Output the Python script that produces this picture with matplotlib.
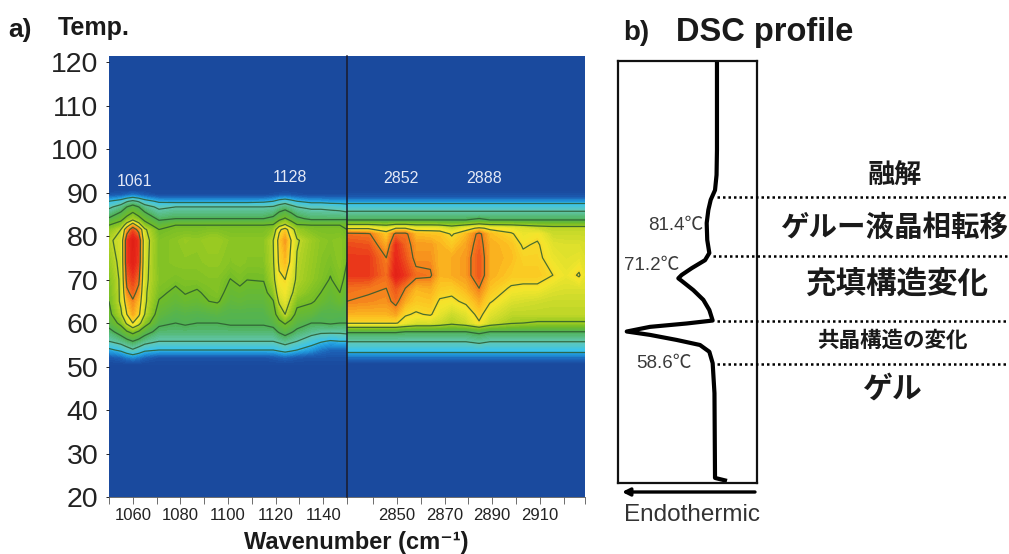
import numpy as np
import matplotlib
matplotlib.use("Agg")
import matplotlib.pyplot as plt
from matplotlib.colors import LinearSegmentedColormap
from matplotlib.patches import FancyArrowPatch

plt.rcParams['font.family'] = ['Liberation Sans', 'Noto Sans CJK JP', 'DejaVu Sans']

Y_TICKS = [20, 30, 40, 50, 60, 70, 80, 90, 100, 110, 120]
LEFT_MAJOR = [1060, 1080, 1100, 1120, 1140]
LEFT_MINOR = [1050, 1070, 1090, 1110, 1130, 1150]
RIGHT_MAJOR = [2850, 2870, 2890, 2910]
RIGHT_MINOR = [2840, 2860, 2880, 2900, 2920, 2929]

LEFT_WN = [1050, 1055, 1057.5, 1060, 1062.5, 1065, 1071, 1078, 1082, 1087, 1092, 1095.5, 1101, 1105, 1108, 1115, 1119, 1121.5, 1124, 1126.5, 1129, 1135, 1139, 1143, 1147, 1150]
LEFT_T = [20, 50.5, 52, 53.8, 55.8, 58, 60, 62, 65, 67, 70, 74, 79, 81.5, 82.5, 84, 86.7, 88, 89.5, 90.5, 121.4]
B = [0.0] * 26
LEFT_Z = [
    B, B,
    [.03,.05,.08,.10,.08,.05,.02,.02,.02,.02,.02,.02,.02,.02,.02,.02,.03,.04,.05,.04,.03,.02,.02,.02,.02,.02],
    [.14,.18,.22,.25,.22,.18,.16,.16,.16,.16,.16,.16,.16,.16,.16,.16,.16,.18,.20,.18,.16,.12,.08,.06,.06,.06],
    [.26,.30,.33,.36,.33,.30,.26,.26,.26,.26,.26,.26,.26,.26,.26,.26,.26,.28,.30,.28,.26,.20,.17,.15,.16,.16],
    [.33,.40,.46,.50,.46,.40,.33,.33,.33,.33,.33,.33,.33,.33,.33,.33,.33,.37,.40,.37,.34,.30,.28,.28,.28,.29],
    [.40,.50,.62,.72,.64,.52,.38,.36,.37,.36,.36,.36,.37,.37,.37,.37,.39,.44,.48,.44,.40,.36,.36,.37,.36,.36],
    [.44,.58,.72,.80,.74,.60,.42,.38,.39,.38,.39,.40,.38,.38,.38,.38,.43,.52,.60,.52,.44,.42,.38,.38,.38,.38],
    [.47,.62,.78,.84,.78,.62,.465,.43,.45,.44,.47,.48,.42,.43,.42,.42,.465,.62,.66,.58,.50,.48,.45,.42,.45,.40],
    [.48,.62,.83,.88,.82,.62,.49,.45,.475,.46,.49,.50,.44,.45,.44,.44,.52,.66,.69,.62,.55,.50,.47,.44,.47,.42],
    [.50,.62,.88,.92,.87,.63,.51,.49,.50,.50,.51,.51,.468,.49,.471,.475,.57,.70,.72,.66,.58,.53,.50,.465,.50,.44],
    [.54,.63,.92,.97,.92,.64,.50,.52,.52,.52,.53,.53,.51,.52,.51,.51,.59,.74,.78,.70,.59,.54,.51,.49,.52,.47],
    [.58,.64,.92,.98,.93,.65,.50,.52,.54,.53,.55,.55,.52,.52,.52,.52,.60,.76,.82,.72,.61,.55,.52,.51,.52,.49],
    [.52,.60,.80,.90,.82,.62,.47,.49,.49,.49,.50,.50,.49,.49,.49,.49,.52,.70,.76,.66,.54,.50,.49,.49,.49,.47],
    [.47,.52,.66,.80,.66,.52,.42,.47,.47,.47,.47,.47,.47,.47,.47,.47,.48,.56,.62,.54,.48,.47,.47,.47,.47,.47],
    [.37,.44,.50,.55,.50,.44,.34,.36,.36,.36,.36,.36,.36,.36,.36,.36,.38,.44,.48,.43,.38,.34,.34,.34,.34,.34],
    [.24,.30,.36,.40,.36,.30,.24,.26,.26,.26,.26,.26,.26,.26,.26,.26,.27,.30,.32,.29,.26,.24,.24,.23,.22,.20],
    [.16,.20,.25,.28,.25,.20,.14,.13,.13,.13,.13,.13,.13,.13,.13,.14,.16,.20,.22,.19,.16,.13,.13,.12,.12,.12],
    [.03,.04,.06,.08,.06,.04,.01,.01,.01,.01,.01,.01,.01,.01,.01,.01,.02,.03,.04,.03,.02,.01,.01,.01,.01,.01],
    B, B,
]

RIGHT_WN = [2829, 2838, 2845.5, 2849.5, 2853.5, 2858, 2864, 2868, 2873, 2879, 2884.5, 2889, 2898, 2903, 2909, 2915.5, 2921, 2926.5, 2929]
RIGHT_T = [20, 50.5, 52, 53.4, 55.7, 58, 60, 62, 65, 68, 71, 75, 78, 80.5, 81.8, 83.7, 85.7, 87.5, 89, 90.3, 121.4]
C = [0.0] * 19
RIGHT_Z = [
    C, C,
    [.07] * 19,
    [.16] * 19,
    [.26,.26,.26,.26,.26,.26,.26,.26,.26,.26,.28,.26,.26,.26,.26,.26,.26,.26,.26],
    [.37,.37,.37,.37,.36,.36,.36,.36,.36,.36,.38,.36,.36,.36,.36,.36,.36,.36,.36],
    [.73,.73,.73,.73,.68,.64,.64,.62,.58,.62,.71,.62,.56,.55,.54,.54,.54,.54,.54],
    [.79,.79,.79,.81,.73,.71,.73,.67,.62,.66,.75,.66,.60,.60,.60,.60,.60,.60,.60],
    [.85,.84,.83,.87,.80,.76,.77,.71,.70,.74,.80,.73,.65,.64,.63,.62,.62,.62,.62],
    [.87,.86,.85,.90,.85,.79,.80,.76,.75,.79,.85,.77,.71,.70,.70,.66,.65,.65,.65],
    [.93,.93,.87,.97,.93,.87,.86,.79,.80,.82,.90,.80,.76,.76,.76,.72,.68,.73,.67],
    [.93,.93,.85,.95,.90,.83,.83,.79,.80,.82,.90,.80,.78,.74,.74,.68,.66,.67,.65],
    [.91,.90,.80,.94,.88,.82,.82,.79,.76,.81,.88,.80,.77,.71,.73,.66,.65,.65,.64],
    [.87,.86,.76,.87,.87,.78,.77,.77,.71,.78,.87,.78,.73,.68,.70,.62,.62,.62,.62],
    [.71,.71,.66,.72,.72,.68,.68,.67,.62,.68,.74,.70,.68,.65,.62,.60,.60,.60,.60],
    [.36,.36,.36,.36,.36,.36,.36,.36,.36,.36,.38,.36,.36,.36,.36,.36,.36,.36,.36],
    [.26] * 19,
    [.16] * 19,
    [.04] * 19,
    C, C,
]

LEFT_LINE_LEVELS = [.16, .26, .36, .47, .60, .72, .85]
RIGHT_LINE_LEVELS = [.16, .26, .36, .55, .72, .85]

PEAK_LABELS = ['1061', '1128', '2852', '2888']

DSC_HEAT = [71.2, 71.2, 70.9, 69.8, 66.7, 65, 63.8, 64.2, 65.7, 62.6, 53, 45.8, 43.4, 45.8, 54.2, 61.4, 65.7, 68.1, 49.4, 23, 6.3, 23, 42.2, 59, 65.7, 68.1, 69.4, 69.8, 78.4]
DSC_POS = [100, 78.9, 73, 69.4, 67.1, 64.7, 61.6, 57.6, 54.5, 52.8, 50.9, 49.3, 48.5, 47.9, 45.7, 43.4, 41, 38.5, 37.8, 37, 35.9, 35.1, 33.9, 32.7, 31.1, 28.4, 21.3, 1.2, 0.5]
BOUNDARY_POS = [67.8, 53.8, 38.4, 28.2]
BOUNDARY_START = [71, 68, 71, 71]

COLORS = [(0, '#1a4a9e'), (.05, '#1c5fb4'), (.12, '#2098dc'), (.18, '#3cc4e8'), (.26, '#62c8b4'),
          (.36, '#4fb257'), (.47, '#6fbb28'), (.55, '#9ccb22'), (.64, '#d6de2c'), (.70, '#f4e62c'),
          (.78, '#fcc020'), (.86, '#f47a1c'), (.95, '#e8281a'), (1, '#dc1c14')]
cmap = LinearSegmentedColormap.from_list('ir', COLORS)

W, H = 1009, 554
fig = plt.figure(figsize=(W / 100, H / 100), dpi=100, facecolor='white')
def rect(x0, y0, x1, y1):
    return [x0 / W, 1 - y1 / H, (x1 - x0) / W, (y1 - y0) / H]
def T(x, y, s, **kw):
    kw.setdefault('ha', 'center'); kw.setdefault('va', 'center'); kw.setdefault('color', '#1a1a1a')
    return fig.text(x / W, 1 - y / H, s, **kw)

axL = fig.add_axes(rect(109, 56, 347, 497), zorder=2)
axR = fig.add_axes(rect(347, 56, 585, 497), zorder=1)
fill = np.linspace(0, 1, 81)
for ax, wn, tt, zz, lev, xl in [
    (axL, LEFT_WN, LEFT_T, LEFT_Z, LEFT_LINE_LEVELS, (1050, 1150)),
    (axR, RIGHT_WN, RIGHT_T, RIGHT_Z, RIGHT_LINE_LEVELS, (2829, 2929))]:
    z = np.array(zz, dtype=float)
    ax.contourf(wn, tt, z, levels=fill, cmap=cmap, vmin=0, vmax=1, extend='both')
    ax.contour(wn, tt, z, levels=lev, colors='#2c5a30', linewidths=0.9, alpha=.85)
    ax.set_xlim(*xl)
    ax.set_ylim(20, 121.4)
    for s in ['top', 'right', 'left']:
        ax.spines[s].set_visible(False)
    ax.spines['bottom'].set_linewidth(.6)
    ax.spines['bottom'].set_color('#555555')

axL.set_xticks(LEFT_MAJOR)
axL.set_xticks(LEFT_MINOR, minor=True)
axR.set_xticks(RIGHT_MAJOR)
axR.set_xticks(RIGHT_MINOR, minor=True)
for ax in (axL, axR):
    ax.tick_params(axis='x', which='both', length=5, width=.6, color='#555555')
    ax.tick_params(axis='x', which='major', labelsize=12, pad=3, labelcolor='#222222')
axL.set_yticks(Y_TICKS)
axL.tick_params(axis='y', length=2.5, width=.6, labelsize=20.5, pad=5, labelcolor='#222222')
axR.set_yticks([])
axL.plot([1150, 1150], [20, 121.4], color='#1a1a2a', lw=1.1, clip_on=False, zorder=5)

T(135, 182, PEAK_LABELS[0], fontsize=11.5, color='#e4e9f6')
T(290, 178, PEAK_LABELS[1], fontsize=11.5, color='#e4e9f6')
T(401, 179, PEAK_LABELS[2], fontsize=11.5, color='#e4e9f6')
T(484, 179, PEAK_LABELS[3], fontsize=11.5, color='#e4e9f6')

T(8, 30, 'a)', ha='left', fontsize=19, fontweight='bold')
T(58, 28, 'Temp.', ha='left', fontsize=18, fontweight='bold')
T(623, 33, 'b)', ha='left', fontsize=20, fontweight='bold')
T(676, 33, 'DSC profile', ha='left', fontsize=23.5, fontweight='bold')
T(356, 543, 'Wavenumber (cm⁻¹)', fontsize=17, fontweight='bold')

axD = fig.add_axes(rect(618, 61, 757, 483))
axD.set_xlim(0, 100)
axD.set_ylim(0, 100)
axD.set_xticks([])
axD.set_yticks([])
for s in axD.spines.values():
    s.set_linewidth(1.6)
    s.set_color('#111111')
axD.plot(DSC_HEAT, DSC_POS, color='black', lw=3, solid_joinstyle='round', solid_capstyle='butt')
for pos, st in zip(BOUNDARY_POS, BOUNDARY_START):
    axD.plot([st, 282], [pos, pos], color='black', lw=1.8, ls=(0, (1, 1.2)), clip_on=False, zorder=5)

for x, y, s in [(676, 226, '81.4℃'), (652, 265, '71.2℃'), (664, 363, '58.6℃')]:
    T(x, y, s, fontsize=13.5, color='#3a3a3a')

fig.add_artist(FancyArrowPatch(
    (755 / W, 1 - 492 / H), (622 / W, 1 - 492 / H), transform=fig.transFigure,
    arrowstyle='-|>', mutation_scale=11, color='black', lw=2.4, shrinkA=0, shrinkB=0))
T(692, 515, 'Endothermic', fontsize=17.5, color='#333333')

T(895, 177, '融解', fontsize=19.5, fontweight='bold')
T(894, 228, 'ゲルー液晶相転移', fontsize=20.5, fontweight='bold')
T(897, 285, '充填構造変化', fontsize=22, fontweight='bold')
T(892, 341, '共晶構造の変化', fontsize=15.5, fontweight='bold')
T(892, 390, 'ゲル', fontsize=21.5, fontweight='bold')

fig.savefig('out.png', dpi=100, facecolor='white')
